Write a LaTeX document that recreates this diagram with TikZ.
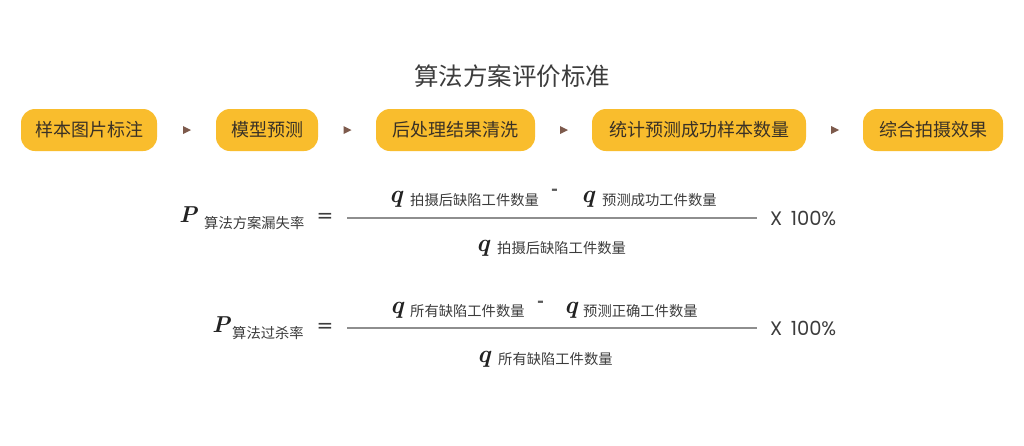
\documentclass[tikz,border=0pt]{standalone}
\usepackage{fontspec}
\newfontfamily\cjk{Noto Sans CJK SC}
\newfontfamily\pop{Poppins}
\newfontfamily\djv{DejaVu Sans}
\usetikzlibrary{decorations.markings}
\definecolor{boxc}{HTML}{F9BD2D}
\definecolor{boxtxt}{HTML}{3A3126}
\definecolor{arrc}{HTML}{7D5A4C}
\definecolor{ftxt}{HTML}{3C3C3C}
\definecolor{rulec}{HTML}{8E8E8E}
\definecolor{symc}{HTML}{222222}
\tikzset{
  stepbox/.style={fill=boxc, rounded corners=14pt, minimum height=42pt, inner sep=0pt,
    text=boxtxt, font=\cjk\fontsize{18}{18}\selectfont},
  flowarrow/.style={decoration={markings, mark=at position 0.5 with
      {\fill[arrc] (-3.5pt,-4pt) -- (4.5pt,0pt) -- (-3.5pt,4pt) -- cycle;}},
    postaction={decorate}},
  ftext/.style={inner sep=0pt, anchor=west, text=ftxt, font=\cjk\fontsize{14.3}{14.3}\selectfont},
  qsym/.style={inner sep=0pt, anchor=base west, text=symc, font=\fontsize{25}{25}\selectfont\bfseries\itshape},
  psym/.style={inner sep=0pt, anchor=base west, text=symc, font=\fontsize{23}{23}\selectfont\bfseries\itshape},
  eqsym/.style={inner sep=0pt, text=ftxt, font=\djv\fontsize{20}{20}\selectfont},
  dashsym/.style={inner sep=0pt, text=ftxt!85, font=\cjk\bfseries\fontsize{18}{18}\selectfont},
  pctsym/.style={inner sep=0pt, anchor=west, text=ftxt, font=\pop\fontsize{19.5}{19.5}\selectfont},
  fracline/.style={draw=rulec, line width=1.1pt}
}
\begin{document}
\begin{tikzpicture}[x=1pt,y=-1pt]
\useasboundingbox[fill=white] (0,0) rectangle (1024,445);

% title
\node[inner sep=0pt, text=ftxt, font=\cjk\fontsize{24.5}{24.5}\selectfont] (title) at (512,76) {算法方案评价标准};

% process boxes
\node[stepbox, minimum width=136pt] (b1) at (89,130) {样本图片标注};
\node[stepbox, minimum width=102pt] (b2) at (267,130) {模型预测};
\node[stepbox, minimum width=159pt] (b3) at (455.5,130) {后处理结果清洗};
\node[stepbox, minimum width=214pt] (b4) at (699,130) {统计预测成功样本数量};
\node[stepbox, minimum width=140pt] (b5) at (933,130) {综合拍摄效果};

\path[flowarrow] (b1.east) -- (b2.west);
\path[flowarrow] (b2.east) -- (b3.west);
\path[flowarrow] (b3.east) -- (b4.west);
\path[flowarrow] (b4.east) -- (b5.west);

% formula 1
\node[psym] (p1) at (179,222) {P};
\node[ftext] (p1s) at (204,223.5) {算法方案漏失率};
\node[eqsym] (eq1) at (325,218) {=};
\coordinate (l1a) at (347,218);
\coordinate (l1b) at (757,218);
\draw[fracline] (l1a) -- (l1b);
\node[qsym] (n1q1) at (389,202) {q};
\node[ftext] (n1t1) at (410,200) {拍摄后缺陷工件数量};
\node[dashsym] (n1m) at (554.5,192) {-};
\node[qsym] (n1q2) at (581,202) {q};
\node[ftext] (n1t2) at (602,200) {预测成功工件数量};
\node[qsym] (d1q) at (476,251) {q};
\node[ftext] (d1t) at (497,248.5) {拍摄后缺陷工件数量};
\node[pctsym] (x1) at (770,218) {X\, 100\%};

% formula 2
\node[psym] (p2) at (212,332) {P};
\node[ftext] (p2s) at (232,333.5) {算法过杀率};
\node[eqsym] (eq2) at (325,328) {=};
\coordinate (l2a) at (347,328);
\coordinate (l2b) at (757,328);
\draw[fracline] (l2a) -- (l2b);
\node[qsym] (n2q1) at (390,313) {q};
\node[ftext] (n2t1) at (410,311) {所有缺陷工件数量};
\node[dashsym] (n2m) at (541,304) {-};
\node[qsym] (n2q2) at (564,313) {q};
\node[ftext] (n2t2) at (583,311) {预测正确工件数量};
\node[qsym] (d2q) at (477,362) {q};
\node[ftext] (d2t) at (498,359.5) {所有缺陷工件数量};
\node[pctsym] (x2) at (770,328) {X\, 100\%};
\end{tikzpicture}
\end{document}
